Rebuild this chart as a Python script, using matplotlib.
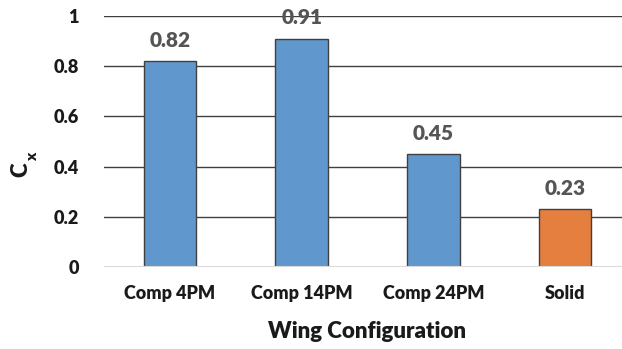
import matplotlib.pyplot as plt
import numpy as np

plt.rcParams['font.family'] = ['Lato', 'DejaVu Sans']

configs = ['Comp 4PM', 'Comp 14PM', 'Comp 24PM', 'Solid']
cx = [0.82, 0.91, 0.45, 0.23]
colors = ['#6097CC', '#6097CC', '#6097CC', '#E57F3F']
yticks = [0, 0.2, 0.4, 0.6, 0.8, 1]
ytick_labels = ['0', '0.2', '0.4', '0.6', '0.8', '1']

W, H = 622, 349
fig = plt.figure(figsize=(W / 100, H / 100), dpi=100)
ax = fig.add_axes([104 / W, 82 / H, 527 / W, 251 / H])

x = np.arange(len(configs))
ax.bar(x, cx, width=0.4, color=colors, edgecolor='#404040', linewidth=1.0, zorder=3)

for xi, v in zip(x, cx):
    ax.text(xi, v + 0.045, f'{v:.2f}', ha='center', va='bottom',
            fontsize=15, fontweight='heavy', color='#555555')

ax.set_xlim(-0.5, 3.5)
ax.set_ylim(0, 1)
ax.set_yticks(yticks)
ax.set_yticklabels(ytick_labels)
ax.set_xticks(x)
ax.set_xticklabels(configs)
ax.tick_params(axis='both', length=0, labelsize=13)
ax.tick_params(axis='y', pad=18)
ax.tick_params(axis='x', pad=13)
for lbl in ax.get_xticklabels() + ax.get_yticklabels():
    lbl.set_fontweight('heavy')
    lbl.set_color('#1a1a1a')

ax.grid(axis='y', color='#404040', linewidth=1.0, zorder=0)
ax.axhline(0, color='#D9D9D9', linewidth=1.5, zorder=4)
for s in ax.spines.values():
    s.set_visible(False)

ax.set_xlabel('Wing Configuration', fontsize=16, fontweight='heavy',
              color='#1a1a1a', labelpad=14)

# y label "C" with subscript "x", rotated
fig.text(21 / W, 1 - 170 / H, 'C', rotation=90, fontsize=16, fontweight='heavy',
         color='#1a1a1a', ha='center', va='center')
fig.text(33 / W, 1 - 157 / H, 'x', rotation=90, fontsize=11, fontweight='heavy',
         color='#1a1a1a', ha='center', va='center')

fig.savefig('out.png', dpi=100)
